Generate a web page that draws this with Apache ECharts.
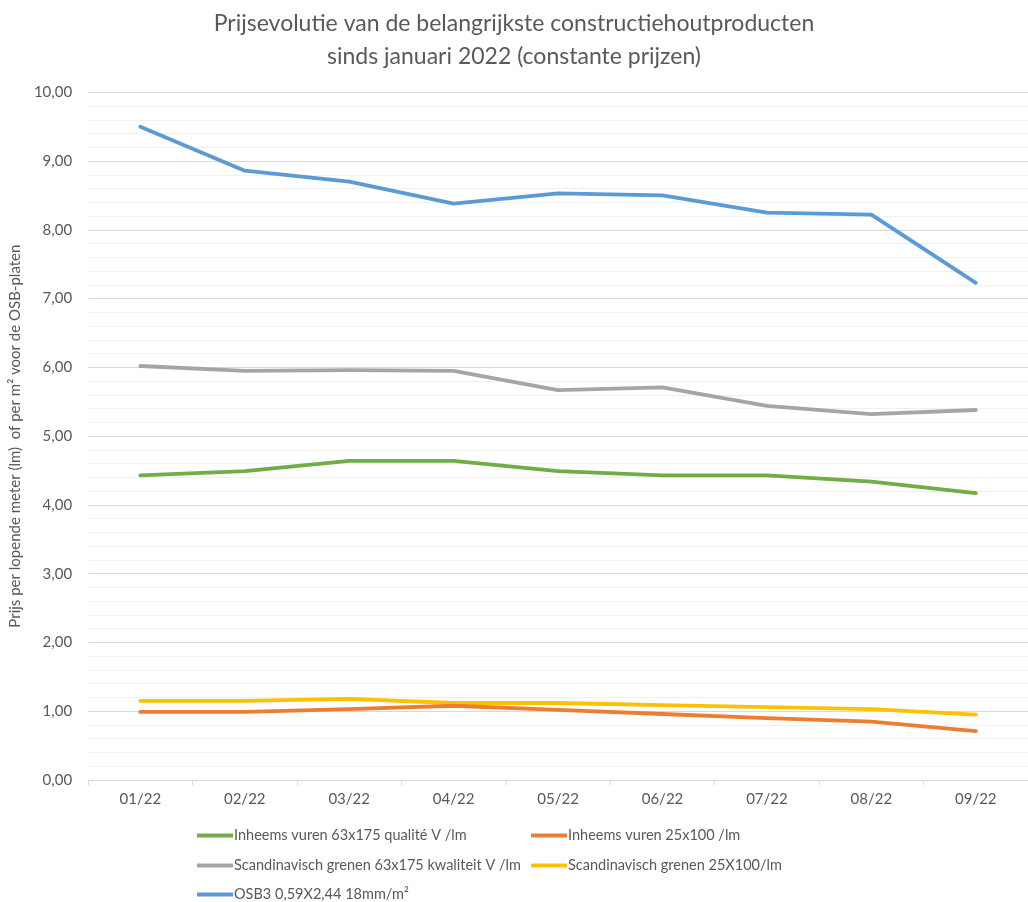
<!DOCTYPE html>
<html>
<head>
<meta charset="utf-8">
<title>Prijsevolutie constructiehout</title>
<script src="https://cdn.jsdelivr.net/npm/echarts@6/dist/echarts.min.js"></script>
<style>
  html, body { margin: 0; padding: 0; background: #fff; }
  #main { width: 1028px; height: 902px; }
</style>
</head>
<body>
<div id="main"></div>
<script>
// maanden
var months = ['01/22', '02/22', '03/22', '04/22', '05/22', '06/22', '07/22', '08/22', '09/22'];

var inheems63 = [4.43, 4.49, 4.64, 4.64, 4.49, 4.43, 4.43, 4.34, 4.17];
var inheems25 = [0.99, 0.99, 1.03, 1.08, 1.02, 0.96, 0.90, 0.85, 0.71];
var scand63 = [6.02, 5.95, 5.96, 5.95, 5.67, 5.71, 5.44, 5.32, 5.38];
var scand25 = [1.15, 1.15, 1.18, 1.12, 1.12, 1.09, 1.06, 1.03, 0.95];
var osb = [9.50, 8.86, 8.70, 8.38, 8.53, 8.50, 8.25, 8.22, 7.23];

var names = [
  'Inheems vuren 63x175 qualité V /lm',
  'Inheems vuren 25x100 /lm',
  'Scandinavisch grenen 63x175 kwaliteit V /lm',
  'Scandinavisch grenen 25X100/lm',
  'OSB3 0,59X2,44 18mm/m²'
];
var colors = ['#70AD47', '#ED7D31', '#A5A5A5', '#FFC000', '#5B9BD5'];
var values = [inheems63, inheems25, scand63, scand25, osb];

var font = 'Lato, "Open Sans", sans-serif';
var textColor = '#595959';

var chart = echarts.init(document.getElementById('main'));

// legende: 2 kolommen, 3 rijen
var legendPos = [[192, 823], [526, 823], [192, 853], [526, 853], [192, 882]];
var legends = names.map(function (n, i) {
  return {
    data: [n],
    left: legendPos[i][0],
    top: legendPos[i][1],
    icon: 'rect',
    itemWidth: 36,
    itemHeight: 4,
    itemGap: 0,
    textStyle: { color: textColor, fontSize: 14.5, fontFamily: font, padding: [0, 0, 0, -4] }
  };
});

var series = names.map(function (n, i) {
  return {
    name: n,
    type: 'line',
    data: values[i],
    symbol: 'none',
    lineStyle: { width: 3.8, color: colors[i], cap: 'round', join: 'round' },
    itemStyle: { color: colors[i] },
    z: 10 - i
  };
});

var option = {
  backgroundColor: '#ffffff',
  animation: false,
  title: {
    text: 'Prijsevolutie van de belangrijkste constructiehoutproducten\nsinds januari 2022 (constante prijzen)',
    left: 'center',
    top: 2,
    textStyle: { color: textColor, fontSize: 23, fontWeight: 'normal', fontFamily: font, lineHeight: 33 }
  },
  legend: legends,
  grid: { left: 84, top: 92.3, width: 958.5, height: 687.7 },
  xAxis: {
    type: 'category',
    data: months,
    boundaryGap: true,
    axisLine: { lineStyle: { color: '#d9d9d9', width: 1 } },
    axisTick: { show: true, length: 5, lineStyle: { color: '#d9d9d9' } },
    axisLabel: { color: textColor, fontSize: 15, fontFamily: font, margin: 12 }
  },
  yAxis: {
    type: 'value',
    min: 0,
    max: 10,
    interval: 1,
    name: 'Prijs per lopende meter (lm)  of per m² voor de OSB-platen',
    nameLocation: 'middle',
    nameGap: 64,
    nameTextStyle: { color: textColor, fontSize: 15, fontFamily: font },
    axisLine: { show: false },
    axisTick: { show: false },
    axisLabel: {
      color: textColor, fontSize: 15, fontFamily: font, margin: 16,
      formatter: function (v) { return v.toFixed(2).replace('.', ','); }
    },
    splitLine: { lineStyle: { color: '#d9d9d9', width: 1 } },
    minorTick: { show: false, splitNumber: 5 },
    minorSplitLine: { show: true, lineStyle: { color: '#f0f0f0', width: 1 } }
  },
  series: series
};

chart.setOption(option);
</script>
</body>
</html>
